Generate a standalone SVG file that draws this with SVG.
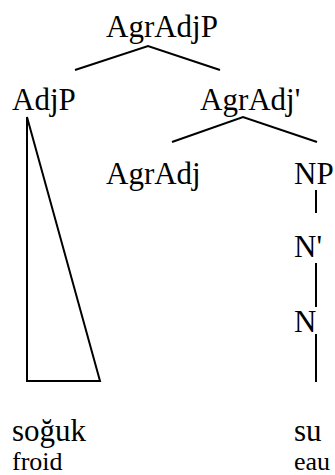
<svg xmlns="http://www.w3.org/2000/svg" width="335" height="475" viewBox="0 0 335 475">
<style>
text{font-family:"Liberation Serif","Times New Roman",serif;fill:#000}
.l{font-size:31px}
.s{font-size:26px}
.e{stroke:#000;stroke-width:2;fill:none}
</style>
<rect width="335" height="475" fill="#fff"/>
<g id="connectors">
<polyline class="e" points="75,70 148,46 220,70"/>
<polyline class="e" points="172,142 243,117 317,142"/>
<polygon class="e" points="27,117 27,381 100,381"/>
<line class="e" x1="316" y1="190" x2="316" y2="213"/>
<line class="e" x1="316" y1="263" x2="316" y2="307"/>
<line class="e" x1="316" y1="334" x2="316" y2="382"/>
</g>
<g id="n-agradjp"><text class="l" x="106" y="37">AgrAdjP</text></g>
<g id="n-adjp"><text class="l" x="12" y="110">AdjP</text></g>
<g id="n-agradjbar"><text class="l" x="200" y="110">AgrAdj'</text></g>
<g id="n-agradj"><text class="l" x="106" y="184">AgrAdj</text></g>
<g id="n-np"><text class="l" x="294" y="184">NP</text></g>
<g id="n-nbar"><text class="l" x="294" y="257">N'</text></g>
<g id="n-n"><text class="l" x="294" y="332">N</text></g>
<g id="n-soguk"><text class="l" x="12" y="441">soğuk</text></g>
<g id="n-su"><text class="l" x="294" y="441">su</text></g>
<g id="g-froid"><text class="s" x="12" y="470">froid</text></g>
<g id="g-eau"><text class="s" x="294" y="470">eau</text></g>
</svg>
